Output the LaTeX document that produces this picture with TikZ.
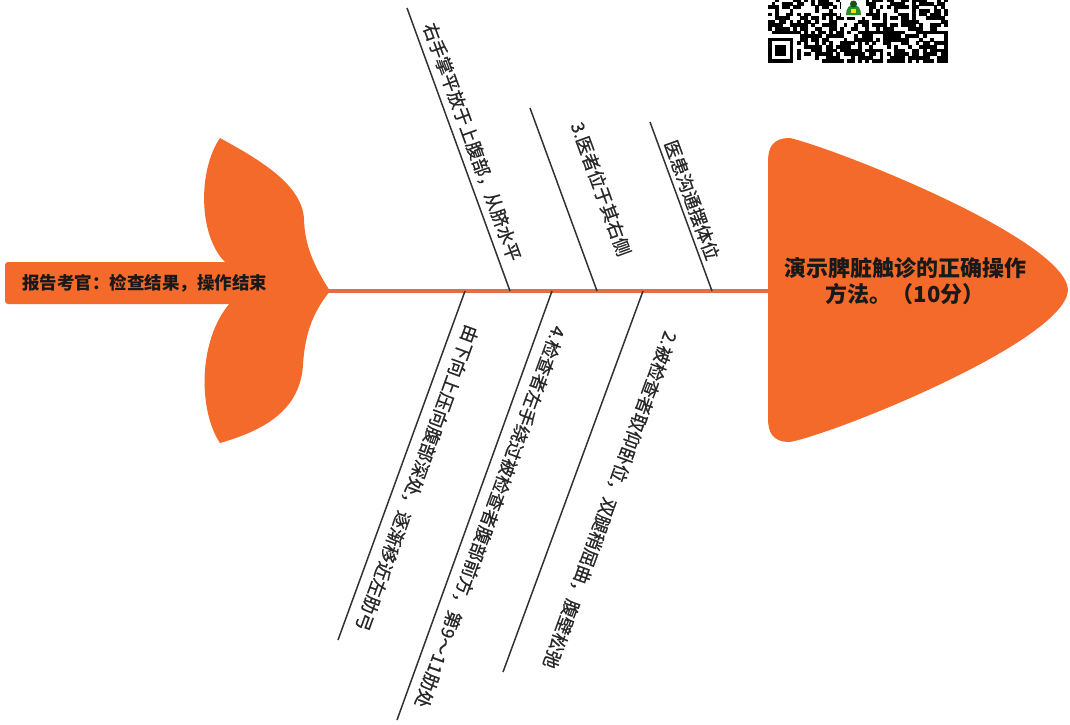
\documentclass[tikz,border=0pt]{standalone}
\usepackage{fontspec}
\setmainfont{Noto Sans CJK SC}
\newfontfamily\labelfont{Noto Sans CJK SC}[FakeBold=0.7]
\definecolor{fishorange}{RGB}{244,106,42}
\definecolor{spineorange}{RGB}{224,112,64}
\definecolor{bonegray}{RGB}{50,50,50}
\definecolor{qrgreen}{RGB}{40,140,40}
\tikzset{
  boneline/.style={draw=bonegray, line width=1.5pt},
  bonelabel/.style={font=\labelfont\fontsize{18}{20}\selectfont, text=black!85, inner sep=0pt},
  headtext/.style={font=\bfseries\fontsize{22}{26}\selectfont, align=center, text=black!90, inner sep=0pt},
  tailtext/.style={font=\bfseries\fontsize{17.5}{20}\selectfont, text=black!90, inner sep=0pt, anchor=west},
  qrmod/.style={fill=black, draw=none}
}
\begin{document}
\begin{tikzpicture}[x=1pt,y=-1pt]
\useasboundingbox (0,0) rectangle (1070,724);

% head
\fill[fishorange] (790,138) .. controls (840,150) and (1066,240) .. (1068,290)
  .. controls (1066,340) and (840,432) .. (790,442)
  .. controls (772,442) and (768,432) .. (768,418) -- (768,162)
  .. controls (768,148) and (772,138) .. (790,138) -- cycle;

% tail
\fill[fishorange] (220,138) .. controls (260,160) and (303,185) .. (304,220)
  .. controls (305,250) and (318,272) .. (330,291)
  .. controls (315,310) and (305,330) .. (303,365)
  .. controls (300,410) and (265,430) .. (220,443)
  .. controls (198,410) and (198,340) .. (230,303) -- (225,262)
  .. controls (198,235) and (198,170) .. (220,138) -- cycle;
\fill[fishorange, rounded corners=3pt] (5,262) rectangle (232,304);

% spine
\coordinate (tailR) at (328,291);
\coordinate (headL) at (769,291);
\draw[spineorange, line width=3.5pt] (tailR) -- (headL);

% texts of head and tail
\node[headtext] (head) at (905,281) {演示脾脏触诊的正确操作\\方法。（10分）};
\node[tailtext] (tail) at (22,283) {报告考官：检查结果，操作结束};

% top bones
\coordinate (t1a) at (407,8);   \coordinate (t1b) at (510,291);
\coordinate (t2a) at (530,108); \coordinate (t2b) at (597,291);
\coordinate (t3a) at (650,122); \coordinate (t3b) at (712,291);
\draw[boneline] (t1a) -- (t1b);
\draw[boneline] (t2a) -- (t2b);
\draw[boneline] (t3a) -- (t3b);

% bottom bones
\coordinate (b1a) at (465,291); \coordinate (b1b) at (338,640);
\coordinate (b2a) at (552,291); \coordinate (b2b) at (397,720);
\coordinate (b3a) at (643,291); \coordinate (b3b) at (503,672);
\draw[boneline] (b1a) -- (b1b);
\draw[boneline] (b2a) -- (b2b);
\draw[boneline] (b3a) -- (b3b);

% labels
\node[bonelabel, rotate=-70] (l1) at (472,142) {右手掌平放于上腹部，从脐水平};
\node[bonelabel, rotate=-70] (l2) at (601,189) {3.医者位于其右侧};
\node[bonelabel, rotate=-70] (l3) at (692,200) {医患沟通摆体位};
\node[bonelabel, rotate=-110] (l4) at (417,478) {由下向上压向腹部深处，逐渐移近左肋弓};
\node[bonelabel, rotate=-110] (l5) at (490,517) {4.检查者左手绕过被检查者腹部前方，第9～11肋处};
\node[bonelabel, rotate=-110] (l6) at (610,500) {2.被检查者取仰卧位，双腿稍屈曲，腹壁松弛};

% QR code (cropped)
\begin{scope}
\clip (766,0) rectangle (950,64);
\pgfmathsetseed{11}
\foreach \i in {0,...,49}{
  \foreach \j in {0,...,17}{
    \pgfmathtruncatemacro\qb{(rnd<0.55)*(1-(\i<8)*(\j>9))}
    \ifnum\qb=1
      \fill[qrmod] ({768+3.6*\i},{-1.8+3.6*\j}) rectangle ++(3.7,3.7);
    \fi
  }
}
\fill[qrmod] (768,37.8) rectangle (793.2,63);
\fill[white] (771.6,41.4) rectangle (789.6,59.4);
\fill[qrmod] (775.2,45) rectangle (786,55.8);
\fill[white] (841,-2) rectangle (866,17);
\fill[qrgreen] (846,15) .. controls (846,8) and (849,5) .. (853.5,5) .. controls (858,5) and (861,8) .. (861,15) -- cycle;
\fill[qrgreen!60!black] (853.5,4) circle (3.5);
\fill[yellow!80!orange] (851,9) rectangle (856,13);
\end{scope}
\end{tikzpicture}
\end{document}
